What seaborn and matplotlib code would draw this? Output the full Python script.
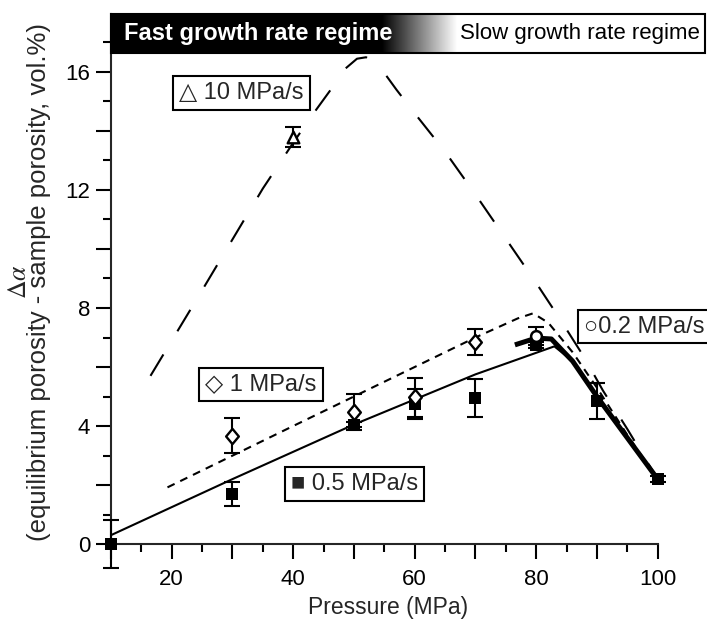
import numpy as np
import pandas as pd
import matplotlib
matplotlib.use("Agg")
import matplotlib.pyplot as plt
import seaborn as sns
from matplotlib.ticker import FuncFormatter
from matplotlib.patches import Rectangle
from matplotlib.path import Path

# ---------------- data ----------------
sq_x = [10, 30, 50, 60, 70, 80, 90, 100]
sq_y = [0.0, 1.7, 4.05, 4.75, 4.95, 6.75, 4.85, 2.2]
sq_err = [0.8, 0.4, 0.1, 0.5, 0.65, 0.1, 0.6, 0.1]

dia_x = [30, 50, 60, 70]
dia_y = [3.67, 4.48, 4.97, 6.85]
dia_err = [0.6, 0.62, 0.67, 0.43]

cir_x = [80]
cir_y = [7.05]
cir_err = [0.3]

tri_x = [40]
tri_y = [13.8]
tri_err = [0.35]

fit05_x = [10, 30, 50, 70, 83, 86, 90, 95, 100]
fit05_y = [0.3, 2.2, 4.05, 5.75, 6.7, 6.2, 5.0, 3.6, 2.2]

fit02_x = [76.5, 80, 82.5, 86, 90, 95, 100]
fit02_y = [6.75, 6.98, 6.95, 6.2, 5.0, 3.6, 2.2]

fit1_x = [19.3, 40, 60, 70, 77, 79.5, 82, 86, 90, 95, 100]
fit1_y = [1.92, 4.0, 6.0, 7.0, 7.65, 7.82, 7.5, 6.5, 5.3, 3.7, 2.2]

fit10_x = [16.5, 25, 35, 40, 43, 46, 48.5, 50.5, 52, 54, 57, 60, 65, 70, 75, 80, 84, 88, 91, 95, 100]
fit10_y = [5.7, 8.6, 12.05, 13.6, 14.5, 15.35, 16.1, 16.45, 16.5, 16.25, 15.4, 14.6, 13.3, 11.85, 10.35, 8.85, 7.6, 6.3, 5.2, 3.9, 2.2]

x_ticklabels = ["20", "40", "60", "80", "100"]
y_ticklabels = ["0", "4", "8", "12", "16"]

# ---------------- style ----------------
sns.set_style("ticks")
plt.rcParams['font.family'] = ['Liberation Sans', 'DejaVu Sans']
plt.rcParams['axes.linewidth'] = 1.5
plt.rcParams['mathtext.fontset'] = 'stix'

fig = plt.figure(figsize=(7.07, 6.28), dpi=100)
L, R, T, B = 111, 705, 14, 544
ax = fig.add_axes([L / 707, (628 - B) / 628, (R - L) / 707, (B - T) / 628])
XMIN, XMAX = 10, 107.8
YMIN, YMAX = 0, (B - T) / 29.5

lw = 1.5
# fits
sns.lineplot(x=fit10_x, y=fit10_y, sort=False, estimator=None, ax=ax, color='black',
             lw=lw, linestyle=(0, (12, 13)))
sns.lineplot(x=fit1_x, y=fit1_y, sort=False, estimator=None, ax=ax, color='black',
             lw=lw, linestyle=(0, (3.8, 3.0)))
sns.lineplot(x=fit05_x, y=fit05_y, sort=False, estimator=None, ax=ax, color='black',
             lw=lw)
sns.lineplot(x=fit02_x, y=fit02_y, sort=False, estimator=None, ax=ax, color='black',
             lw=3.6, solid_capstyle='butt')

# error bars
for xs, ys, es in [(sq_x, sq_y, sq_err), (dia_x, dia_y, dia_err),
                   (cir_x, cir_y, cir_err), (tri_x, tri_y, tri_err)]:
    ax.errorbar(xs, ys, yerr=es, fmt='none', ecolor='black', elinewidth=1.5,
                capsize=5.5, capthick=1.5, clip_on=False, zorder=4)

diamond = Path([(0, 1.2), (1, 0), (0, -1.2), (-1, 0), (0, 1.2)],
               [Path.MOVETO, Path.LINETO, Path.LINETO, Path.LINETO, Path.CLOSEPOLY])

sns.scatterplot(x=sq_x, y=sq_y, marker='s', s=80, color='black', edgecolor='black',
                linewidth=0, ax=ax, zorder=5, clip_on=False)
sns.scatterplot(x=dia_x, y=dia_y, marker=diamond, s=121, facecolor='white',
                edgecolor='black', linewidth=1.7, ax=ax, zorder=6, clip_on=False)
sns.scatterplot(x=cir_x, y=cir_y, marker='o', s=60, facecolor='white',
                edgecolor='black', linewidth=1.8, ax=ax, zorder=6, clip_on=False)
sns.scatterplot(x=tri_x, y=tri_y, marker='^', s=70, facecolor='white',
                edgecolor='black', linewidth=1.7, ax=ax, zorder=6, clip_on=False)

# ---------------- axes ----------------
ax.set_xlim(XMIN, XMAX)
ax.set_ylim(YMIN, YMAX)
ax.spines['top'].set_visible(False)
ax.spines['right'].set_visible(False)
ax.spines['bottom'].set_bounds(10, 100)
ax.spines['left'].set_bounds(0, YMAX)

ax.set_xticks(np.arange(10, 101, 10))
ax.set_xticks(np.arange(15, 100, 10), minor=True)
ax.set_yticks(np.arange(0, 17, 2))
ax.set_yticks(np.arange(1, 18, 2), minor=True)
ax.xaxis.set_major_formatter(FuncFormatter(
    lambda v, p: x_ticklabels[int(round(v)) // 20 - 1] if (int(round(v)) % 20 == 0 and 20 <= v <= 100) else ""))
ax.yaxis.set_major_formatter(FuncFormatter(
    lambda v, p: y_ticklabels[int(round(v)) // 4] if (int(round(v)) % 4 == 0 and 0 <= v <= 16) else ""))

ax.tick_params(axis='both', which='major', direction='out', length=11, width=1.5,
               labelsize=16, color='black', labelcolor='black')
ax.tick_params(axis='both', which='minor', direction='out', length=6, width=1.5,
               color='black')
ax.tick_params(axis='x', which='major', pad=7)
ax.tick_params(axis='y', which='major', pad=4)

# labels
fig.text(388 / 707, 0.033, "Pressure (MPa)", ha='center', va='center', fontsize=16.5)
fig.text(29 / 707, 1 - 282 / 628,
         "$\\Delta\\alpha$\n(equilibrium porosity - sample porosity, vol.%)",
         rotation=90, ha='center', va='center', multialignment='center',
         fontsize=18.5, linespacing=0.78)

# ---------------- banner ----------------
b0, b1 = (B - 53) / 29.5, YMAX
g0, g1 = 54.6, 67.0
xs = np.linspace(XMIN, XMAX, 600)
grad = np.clip((xs - g0) / (g1 - g0), 0, 1)[None, :]
ax.imshow(grad, cmap='gray', vmin=0, vmax=1, extent=[XMIN, XMAX, b0, b1],
          aspect='auto', zorder=8, clip_on=False, interpolation='bilinear')
ax.add_patch(Rectangle((XMIN, b0), XMAX - XMIN, b1 - b0, fill=False, edgecolor='black',
                       lw=1.5, zorder=9, clip_on=False))
ax.text(12.2, (b0 + b1) / 2, "Fast growth rate regime", color='white', fontsize=17,
        fontweight='bold', ha='left', va='center', zorder=10)
ax.text(107.0, (b0 + b1) / 2, "Slow growth rate regime", color='black', fontsize=16,
        ha='right', va='center', zorder=10)
ax.set_xlim(XMIN, XMAX)
ax.set_ylim(YMIN, YMAX)

# ---------------- legend boxes ----------------
box = dict(boxstyle='square,pad=0.25', facecolor='white', edgecolor='black', lw=1.5)
fam = ['Liberation Sans', 'DejaVu Sans']
ax.text(31.5, 15.3, "△ 10 MPa/s", fontsize=17, ha='center', va='center', bbox=box,
        zorder=10, family=fam)
ax.text(34.7, 5.41, "◇ 1 MPa/s", fontsize=17, ha='center', va='center', bbox=box,
        zorder=10, family=fam)
ax.text(50.1, 2.03, "■ 0.5 MPa/s", fontsize=17, ha='center', va='center', bbox=box,
        zorder=10, family=fam)
ax.text(97.8, 7.37, "○0.2 MPa/s", fontsize=17, ha='center', va='center', bbox=box,
        zorder=10, family=fam)

fig.savefig("out.png", dpi=100)
